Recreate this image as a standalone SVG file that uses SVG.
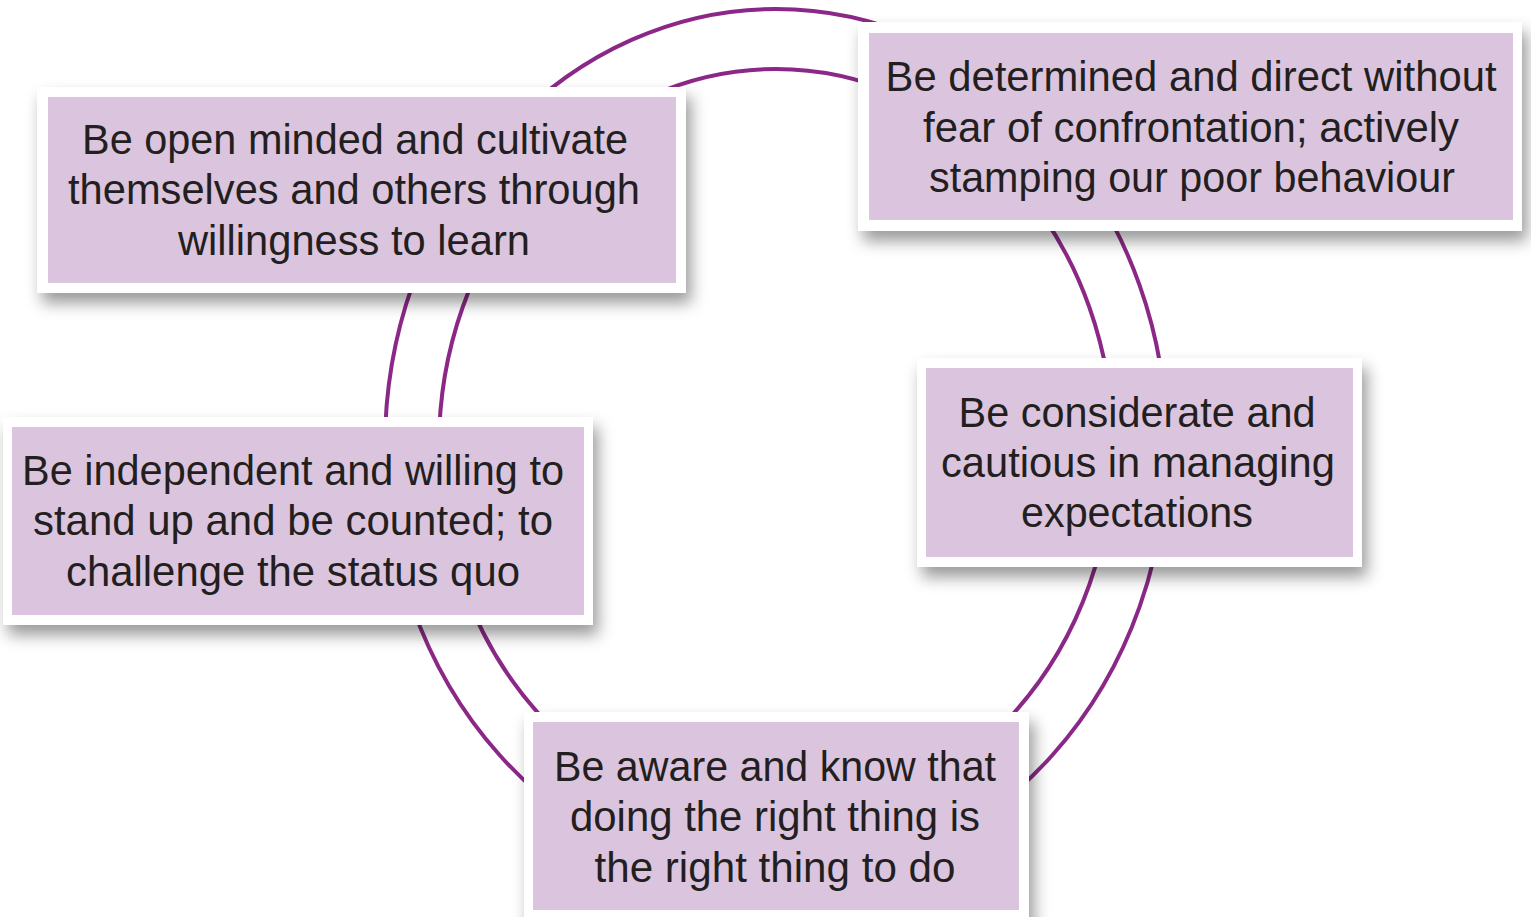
<svg xmlns="http://www.w3.org/2000/svg" width="1531" height="917" viewBox="0 0 1531 917">
<style>
.ring{fill:none;stroke:#8b2887;stroke-width:4}
.frame{fill:#ffffff;filter:url(#sh)}
.box{fill:#dbc5de}
.t{font-family:"Liberation Sans Narrow","Liberation Sans",Arial,sans-serif;font-size:42px;fill:#231f20;text-anchor:middle}
</style>
<defs>
<filter id="sh" x="-10%" y="-20%" width="125%" height="160%">
<feDropShadow dx="5" dy="10" stdDeviation="8" flood-color="#000" flood-opacity="0.4"/>
</filter>
</defs>
<rect width="1531" height="917" fill="#ffffff"/>
<g id="connectors">
<ellipse class="ring" cx="776" cy="446" rx="391" ry="437"/>
<ellipse class="ring" cx="776" cy="446" rx="337" ry="377"/>
</g>
<g id="node-open-minded">
<rect class="frame" x="37" y="87" width="649" height="206"/>
<rect class="box" x="48" y="97" width="628" height="186"/>
<text class="t"><tspan x="355" y="154" textLength="546" lengthAdjust="spacingAndGlyphs">Be open minded and cultivate</tspan><tspan x="354" y="204" textLength="572" lengthAdjust="spacingAndGlyphs">themselves and others through</tspan><tspan x="354" y="255" textLength="352" lengthAdjust="spacingAndGlyphs">willingness to learn</tspan></text>
</g>
<g id="node-determined">
<rect class="frame" x="858" y="22" width="664" height="209"/>
<rect class="box" x="869" y="33" width="644" height="187"/>
<text class="t"><tspan x="1191" y="91" textLength="611" lengthAdjust="spacingAndGlyphs">Be determined and direct without</tspan><tspan x="1191" y="142" textLength="536" lengthAdjust="spacingAndGlyphs">fear of confrontation; actively</tspan><tspan x="1192" y="192" textLength="526" lengthAdjust="spacingAndGlyphs">stamping our poor behaviour</tspan></text>
</g>
<g id="node-considerate">
<rect class="frame" x="917" y="358" width="445" height="209"/>
<rect class="box" x="926" y="368" width="427" height="189"/>
<text class="t"><tspan x="1137" y="427" textLength="357" lengthAdjust="spacingAndGlyphs">Be considerate and</tspan><tspan x="1138" y="477" textLength="394" lengthAdjust="spacingAndGlyphs">cautious in managing</tspan><tspan x="1137" y="527" textLength="232" lengthAdjust="spacingAndGlyphs">expectations</tspan></text>
</g>
<g id="node-independent">
<rect class="frame" x="3" y="417" width="590" height="208"/>
<rect class="box" x="12" y="427" width="572" height="188"/>
<text class="t"><tspan x="293" y="485" textLength="542" lengthAdjust="spacingAndGlyphs">Be independent and willing to</tspan><tspan x="293" y="535" textLength="520" lengthAdjust="spacingAndGlyphs">stand up and be counted; to</tspan><tspan x="293" y="586" textLength="454" lengthAdjust="spacingAndGlyphs">challenge the status quo</tspan></text>
</g>
<g id="node-aware">
<rect class="frame" x="524" y="712" width="505" height="215"/>
<rect class="box" x="533" y="722" width="486" height="188"/>
<text class="t"><tspan x="775" y="781" textLength="442" lengthAdjust="spacingAndGlyphs">Be aware and know that</tspan><tspan x="775" y="831" textLength="410" lengthAdjust="spacingAndGlyphs">doing the right thing is</tspan><tspan x="775" y="882" textLength="361" lengthAdjust="spacingAndGlyphs">the right thing to do</tspan></text>
</g>
</svg>
